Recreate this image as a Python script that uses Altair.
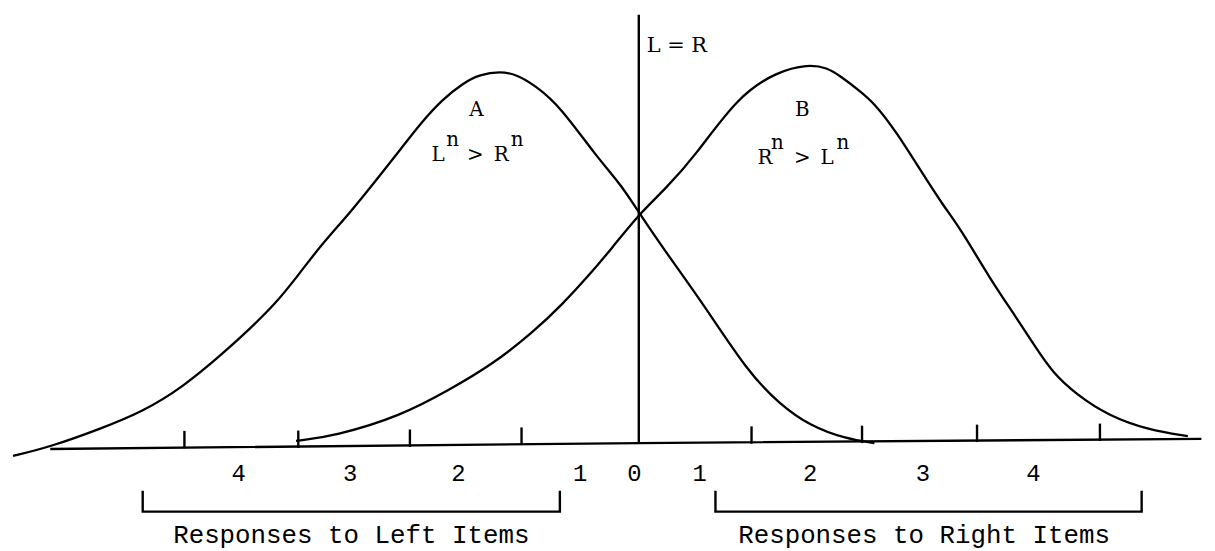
import altair as alt
import pandas as pd

# ---- data (x in response units, 0 = L=R point; y in relative frequency units)
curve_a_x = [-5.55, -5.22, -4.76, -4.41, -4.05, -3.67, -3.44, -3.23, -3.02, -2.82, -2.56, -2.32,
             -2.11, -1.94, -1.74, -1.56, -1.41, -1.23, -1.08, -0.91, -0.70, -0.38, -0.15, 0.0,
             0.24, 0.56, 0.97, 1.25, 1.52, 1.84, 2.09]
curve_a_y = [-2.6, 0.0, 5.4, 10.0, 17.0, 27.4, 34.3, 40.9, 49.4, 58.0, 67.4, 77.1,
             85.7, 92.9, 100.0, 104.6, 107.1, 108.0, 107.1, 103.7, 98.0, 83.7, 75.1, 67.4,
             56.0, 41.7, 21.4, 12.3, 6.0, 2.3, 1.1]

curve_b_x = [-3.04, -2.70, -2.11, -1.67, -1.30, -0.94, -0.68, -0.44, -0.24, 0.0, 0.24, 0.50,
             0.88, 1.23, 1.50, 1.67, 1.79, 1.94, 2.09, 2.29, 2.49, 2.70, 2.85, 3.11, 3.35,
             3.52, 3.67, 3.88, 4.17, 4.52, 4.87]
curve_b_y = [1.7, 3.1, 8.9, 16.6, 23.7, 32.9, 40.9, 49.4, 57.1, 66.9, 74.3, 83.7,
             100.9, 108.0, 110.0, 109.1, 106.6, 102.9, 98.9, 90.3, 80.0, 69.4, 62.9, 48.6, 37.1,
             28.6, 21.4, 15.1, 8.9, 4.9, 3.1]

baseline_x = [-5.22, 0.0, 4.99]
baseline_y = [-0.6, 1.1, 2.3]

divider_x = [0.0, 0.0]
divider_y = [1.1, 124.3]

tick_x = [-4.03, -3.02, -2.03, -1.04, 1.00, 1.98, 3.00, 4.09]
tick_base = [-0.4, -0.3, 0.0, 0.6, 0.9, 1.1, 1.4, 1.7]
tick_len = 5.0

digit_labels = ["4", "3", "2", "1", "0", "1", "2", "3", "4"]
digit_x = [-3.55, -2.56, -1.60, -0.52, -0.04, 0.54, 1.52, 2.52, 3.50]
digit_y = -9.7

bracket_left_x = [-4.40, -4.40, -0.70, -0.70]
bracket_right_x = [0.68, 0.68, 4.46, 4.46]
bracket_y = [-12.6, -18.6, -18.6, -12.6]

group_labels = ["Responses to Left Items", "Responses to Right Items"]
group_x = [-2.55, 2.53]
group_y = -27.7

curve_labels = ["A", "B"]
curve_label_x = [-1.44, 1.45]
curve_label_y = 95.1

# inequality glyphs: L^n > R^n and R^n > L^n
ineq_text = ["L", "n", ">", "R", "n", "R", "n", ">", "L", "n"]
ineq_x = [-1.78, -1.65, -1.45, -1.22, -1.08, 1.12, 1.23, 1.45, 1.67, 1.81]
ineq_y = [82.3, 86.6, 82.3, 82.3, 86.6, 81.4, 85.7, 81.4, 81.4, 85.7]

eq_label = "L = R"
eq_x = 0.07
eq_y = 113.7

# ---- build tables
rows = []
for i, (x, y) in enumerate(zip(curve_a_x, curve_a_y)):
    rows.append({"x": x, "y": y, "g": "A", "o": i})
for i, (x, y) in enumerate(zip(curve_b_x, curve_b_y)):
    rows.append({"x": x, "y": y, "g": "B", "o": i})
curves = pd.DataFrame(rows)

seg_rows = []
for i, (x, y) in enumerate(zip(baseline_x, baseline_y)):
    seg_rows.append({"x": x, "y": y, "g": "base", "o": i})
for i, (x, y) in enumerate(zip(divider_x, divider_y)):
    seg_rows.append({"x": x, "y": y, "g": "divider", "o": i})
for i, (x, y) in enumerate(zip(bracket_left_x, bracket_y)):
    seg_rows.append({"x": x, "y": y, "g": "bl", "o": i})
for i, (x, y) in enumerate(zip(bracket_right_x, bracket_y)):
    seg_rows.append({"x": x, "y": y, "g": "br", "o": i})
for k, (x, b) in enumerate(zip(tick_x, tick_base)):
    seg_rows.append({"x": x, "y": b, "g": f"t{k}", "o": 0})
    seg_rows.append({"x": x, "y": b + tick_len, "g": f"t{k}", "o": 1})
segs = pd.DataFrame(seg_rows)

digits = pd.DataFrame({"x": digit_x, "y": [digit_y] * len(digit_x), "t": digit_labels})
groups = pd.DataFrame({"x": group_x, "y": [group_y] * 2, "t": group_labels})
clabels = pd.DataFrame({"x": curve_label_x, "y": [curve_label_y] * 2, "t": curve_labels})
ineq = pd.DataFrame({"x": ineq_x, "y": ineq_y, "t": ineq_text})
eq = pd.DataFrame({"x": [eq_x], "y": [eq_y], "t": [eq_label]})

xs = alt.Scale(domain=[-5.5683, 4.9956], nice=False, zero=False)
ys = alt.Scale(domain=[-30.857, 124.286], nice=False, zero=False)
X = alt.X("x:Q", scale=xs, axis=None)
Y = alt.Y("y:Q", scale=ys, axis=None)

curve_layer = alt.Chart(curves).mark_line(
    color="black", strokeWidth=2.3, interpolate="basis", clip=False
).encode(x=X, y=Y, detail="g:N", order="o:Q")

seg_layer = alt.Chart(segs).mark_line(
    color="black", strokeWidth=2.4, interpolate="linear", clip=False
).encode(x=X, y=Y, detail="g:N", order="o:Q")

mono = "Liberation Mono"
serif = "DejaVu Serif"

digit_layer = alt.Chart(digits).mark_text(
    font=mono, fontSize=24, color="black", align="center", baseline="alphabetic"
).encode(x=X, y=Y, text="t:N")

group_layer = alt.Chart(groups).mark_text(
    font=mono, fontSize=26, color="black", align="center", baseline="alphabetic"
).encode(x=X, y=Y, text="t:N")

clabel_layer = alt.Chart(clabels).mark_text(
    font=serif, fontSize=20, color="black", align="center", baseline="alphabetic"
).encode(x=X, y=Y, text="t:N")

ineq_layer = alt.Chart(ineq).mark_text(
    font=serif, fontSize=20, color="black", align="center", baseline="alphabetic"
).encode(x=X, y=Y, text="t:N")

eq_layer = alt.Chart(eq).mark_text(
    font=serif, fontSize=21, color="black", align="left", baseline="alphabetic"
).encode(x=X, y=Y, text="t:N")

chart = alt.layer(
    curve_layer, seg_layer, digit_layer, group_layer, clabel_layer, ineq_layer, eq_layer
).properties(
    width=1199, height=543, padding=0, background="white",
).configure_view(stroke=None)

chart.save("out.html", embed_options={"renderer": "svg", "actions": False})
